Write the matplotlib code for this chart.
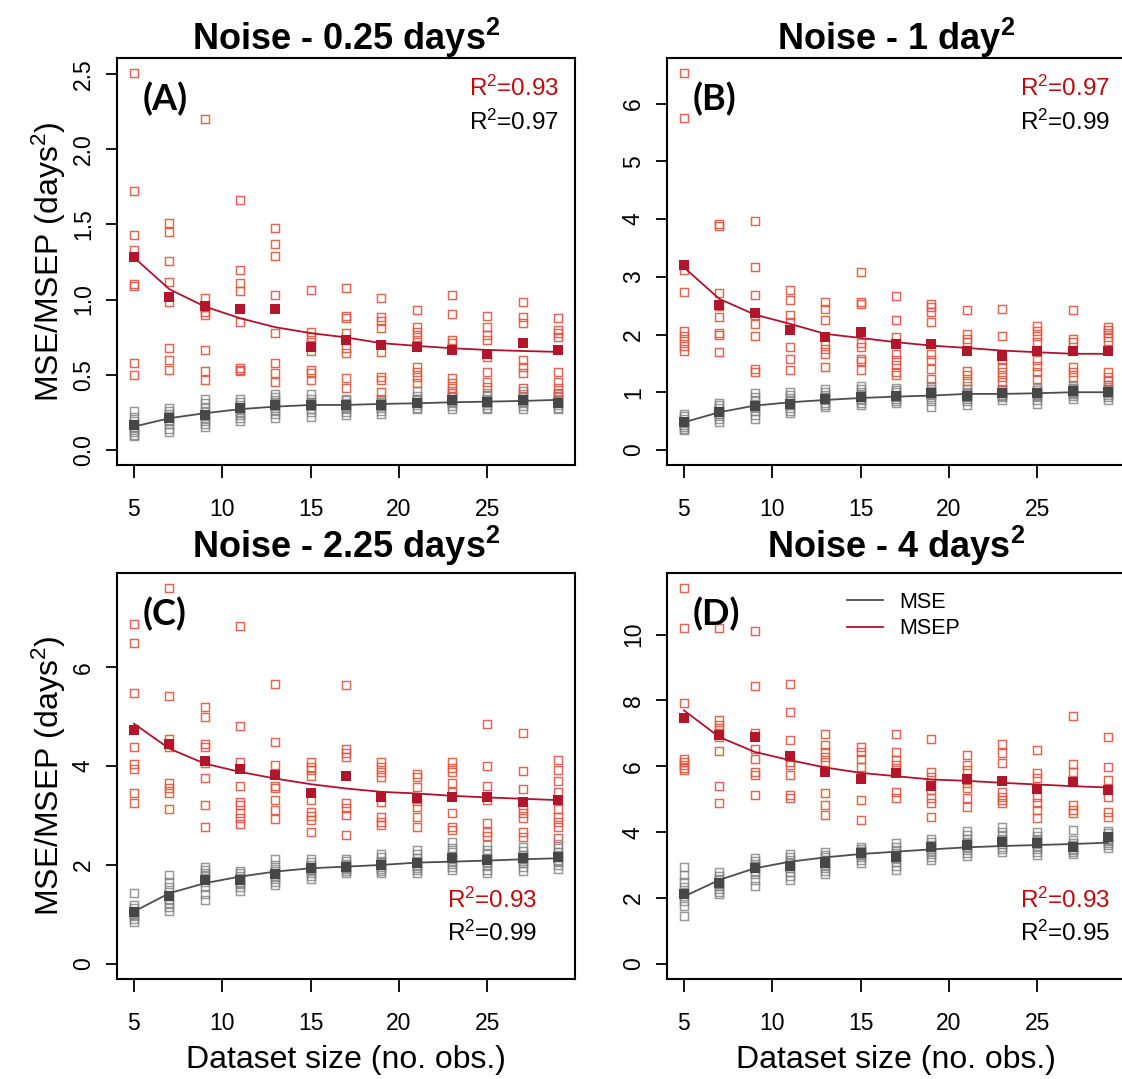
import matplotlib
matplotlib.use("Agg")
import matplotlib.pyplot as plt
from matplotlib.lines import Line2D

plt.rcParams['font.family'] = ['Liberation Sans', 'DejaVu Sans']
plt.rcParams['mathtext.fontset'] = 'custom'
plt.rcParams['mathtext.rm'] = 'Liberation Sans'
plt.rcParams['mathtext.it'] = 'Liberation Sans:italic'
plt.rcParams['mathtext.bf'] = 'Liberation Sans:bold'

# ---------------- data ----------------
sizes = [5, 7, 9, 11, 13, 15, 17, 19, 21, 23, 25, 27, 29]
xticks = [5, 10, 15, 20, 25]

titles = ["Noise - 0.25 days$^\\mathbf{2}$", "Noise - 1 day$^\\mathbf{2}$",
          "Noise - 2.25 days$^\\mathbf{2}$", "Noise - 4 days$^\\mathbf{2}$"]
tags = ["(A)", "(B)", "(C)", "(D)"]
r2_msep = ["0.93", "0.97", "0.93", "0.93"]
r2_mse = ["0.97", "0.99", "0.99", "0.95"]

A_yticks = [0.0, 0.5, 1.0, 1.5, 2.0, 2.5]
A_yticklabels = ["0.0", "0.5", "1.0", "1.5", "2.0", "2.5"]
B_yticks = [0, 1, 2, 3, 4, 5, 6]
C_yticks = [0, 2, 4, 6]
D_yticks = [0, 2, 4, 6, 8, 10]

# ---- Panel A ----
A_msep = [
    [2.506, 1.723, 1.426, 1.331, 1.102, 1.087, 0.577, 0.499],
    [1.512, 1.446, 1.258, 1.120, 0.987, 0.677, 0.599, 0.532],
    [2.202, 1.009, 0.950, 0.920, 0.898, 0.665, 0.526, 0.466],
    [1.663, 1.198, 1.113, 1.060, 0.854, 0.543, 0.530, 0.528],
    [1.473, 1.371, 1.291, 1.027, 0.776, 0.577, 0.510, 0.455],
    [1.065, 0.787, 0.754, 0.720, 0.660, 0.532, 0.510, 0.466],
    [1.076, 0.892, 0.880, 0.776, 0.677, 0.643, 0.477, 0.410],
    [1.009, 0.887, 0.860, 0.810, 0.654, 0.488, 0.466, 0.388],
    [0.931, 0.816, 0.787, 0.754, 0.720, 0.554, 0.521, 0.488, 0.443],
    [1.031, 0.905, 0.732, 0.710, 0.477, 0.443, 0.410, 0.377],
    [0.892, 0.816, 0.765, 0.732, 0.621, 0.521, 0.455, 0.421],
    [0.987, 0.887, 0.843, 0.599, 0.554, 0.510, 0.410],
    [0.876, 0.798, 0.776, 0.754, 0.521, 0.455, 0.410, 0.377],
]
A_mse = [
    [0.26, 0.22, 0.19, 0.17, 0.15, 0.13, 0.12, 0.10, 0.09],
    [0.28, 0.26, 0.24, 0.22, 0.20, 0.19, 0.17, 0.14, 0.12],
    [0.34, 0.31, 0.28, 0.25, 0.23, 0.21, 0.19, 0.17, 0.155],
    [0.34, 0.32, 0.30, 0.28, 0.27, 0.25, 0.23, 0.21, 0.19],
    [0.37, 0.35, 0.33, 0.31, 0.30, 0.28, 0.26, 0.24, 0.21],
    [0.37, 0.34, 0.32, 0.31, 0.30, 0.29, 0.27, 0.25, 0.22],
    [0.34, 0.33, 0.31, 0.30, 0.29, 0.28, 0.27, 0.25, 0.23],
    [0.34, 0.33, 0.32, 0.31, 0.30, 0.29, 0.28, 0.26, 0.24],
    [0.39, 0.36, 0.34, 0.33, 0.32, 0.31, 0.30, 0.28, 0.27],
    [0.38, 0.36, 0.35, 0.34, 0.33, 0.32, 0.31, 0.29, 0.27],
    [0.38, 0.36, 0.34, 0.33, 0.32, 0.31, 0.30, 0.28, 0.27],
    [0.39, 0.37, 0.35, 0.34, 0.33, 0.32, 0.31, 0.29, 0.27],
    [0.37, 0.35, 0.34, 0.33, 0.32, 0.31, 0.30, 0.28, 0.27],
]
A_msep_mean = [1.28, 1.016, 0.954, 0.936, 0.936, 0.687, 0.733, 0.699, 0.687, 0.665, 0.638, 0.710, 0.665]
A_msep_fit = [1.28, 1.069, 0.954, 0.876, 0.816, 0.777, 0.748, 0.710, 0.692, 0.676, 0.665, 0.658, 0.652]
A_mse_mean = [0.166, 0.211, 0.233, 0.277, 0.299, 0.299, 0.299, 0.299, 0.310, 0.333, 0.321, 0.333, 0.310]
A_mse_fit = [0.155, 0.211, 0.244, 0.271, 0.288, 0.299, 0.299, 0.306, 0.310, 0.317, 0.321, 0.326, 0.333]

# ---- Panel B ----
B_msep = [
    [6.531, 5.757, 3.121, 2.733, 2.057, 1.980, 1.895, 1.808, 1.710],
    [3.919, 3.879, 2.722, 2.500, 2.311, 2.022, 1.999, 1.692],
    [3.976, 3.166, 2.693, 2.346, 2.185, 1.982, 1.405, 1.347],
    [2.774, 2.601, 2.330, 2.214, 1.779, 1.578, 1.387],
    [2.560, 2.444, 2.254, 1.840, 1.753, 1.666, 1.433],
    [3.092, 2.560, 2.530, 1.850, 1.779, 1.578, 1.537, 1.387],
    [2.664, 2.254, 1.950, 1.666, 1.550, 1.480, 1.347, 1.290],
    [2.530, 2.473, 2.387, 2.214, 1.666, 1.550, 1.405, 1.232],
    [2.420, 2.011, 1.925, 1.867, 1.376, 1.290, 1.203],
    [2.444, 1.982, 1.550, 1.433, 1.347, 1.261, 1.174],
    [2.155, 2.069, 1.982, 1.867, 1.550, 1.463, 1.347, 1.232],
    [2.420, 1.925, 1.867, 1.433, 1.347, 1.261],
    [2.138, 2.080, 2.022, 1.953, 1.895, 1.347, 1.261, 1.203],
]
B_mse = [
    [0.62, 0.58, 0.53, 0.49, 0.46, 0.43, 0.40, 0.37, 0.34],
    [0.82, 0.77, 0.72, 0.68, 0.65, 0.62, 0.58, 0.53, 0.49],
    [0.98, 0.92, 0.86, 0.80, 0.77, 0.73, 0.68, 0.60, 0.53],
    [1.00, 0.95, 0.90, 0.85, 0.80, 0.77, 0.73, 0.68, 0.64],
    [1.05, 1.00, 0.96, 0.92, 0.89, 0.86, 0.82, 0.78, 0.75],
    [1.10, 1.05, 1.00, 0.95, 0.92, 0.89, 0.86, 0.82, 0.78],
    [1.08, 1.04, 1.00, 0.96, 0.94, 0.92, 0.89, 0.85, 0.81],
    [1.10, 1.06, 1.02, 0.99, 0.97, 0.95, 0.92, 0.85, 0.75],
    [1.10, 1.05, 1.01, 0.98, 0.95, 0.92, 0.89, 0.84, 0.78],
    [1.06, 1.03, 1.01, 0.99, 0.98, 0.96, 0.94, 0.91, 0.87],
    [1.07, 1.03, 1.00, 0.98, 0.97, 0.95, 0.92, 0.87, 0.80],
    [1.11, 1.08, 1.05, 1.03, 1.01, 0.99, 0.97, 0.93, 0.88],
    [1.13, 1.09, 1.06, 1.03, 1.00, 0.98, 0.95, 0.91, 0.87],
]
B_msep_mean = [3.208, 2.52, 2.369, 2.081, 1.953, 2.04, 1.838, 1.838, 1.722, 1.635, 1.722, 1.722, 1.722]
B_msep_fit = [3.163, 2.618, 2.346, 2.185, 2.011, 1.940, 1.867, 1.808, 1.768, 1.722, 1.693, 1.666, 1.666]
B_mse_mean = [0.479, 0.653, 0.768, 0.797, 0.884, 0.913, 0.942, 0.982, 0.942, 0.982, 0.982, 1.017, 1.0]
B_mse_fit = [0.479, 0.653, 0.768, 0.826, 0.866, 0.900, 0.924, 0.942, 0.971, 0.971, 0.982, 1.0, 1.0]

# ---- Panel C ----
C_msep = [
    [6.875, 6.484, 5.484, 4.387, 4.052, 3.950, 3.448, 3.246],
    [7.601, 5.409, 4.556, 4.387, 3.649, 3.548, 3.461, 3.131],
    [5.194, 4.992, 4.456, 4.387, 4.070, 3.770, 3.212, 2.762],
    [6.841, 4.804, 4.085, 3.595, 3.279, 3.212, 3.044, 2.944, 2.829],
    [5.665, 4.488, 4.018, 3.595, 3.548, 3.313, 3.111, 2.923],
    [4.085, 3.985, 3.918, 3.797, 3.313, 3.078, 2.990, 2.909, 2.673],
    [5.631, 4.355, 4.267, 4.186, 3.246, 3.145, 3.011, 2.607],
    [4.085, 3.985, 3.884, 3.783, 3.279, 2.977, 2.876, 2.809],
    [3.851, 3.783, 3.582, 3.300, 3.178, 2.977, 2.775],
    [4.085, 3.971, 3.884, 3.649, 3.480, 3.044, 2.775, 2.708],
    [4.845, 4.002, 3.595, 3.313, 2.842, 2.673, 2.586],
    [4.670, 3.904, 3.528, 3.145, 3.044, 2.944, 2.673, 2.573],
    [4.119, 3.918, 3.703, 3.480, 3.125, 2.963, 2.876, 2.775, 2.540],
]
C_mse = [
    [1.43, 1.20, 1.13, 1.08, 1.04, 1.00, 0.96, 0.91, 0.85],
    [1.80, 1.65, 1.55, 1.45, 1.38, 1.30, 1.22, 1.15, 1.08],
    [1.96, 1.90, 1.84, 1.78, 1.72, 1.65, 1.55, 1.42, 1.30],
    [1.88, 1.83, 1.78, 1.74, 1.70, 1.66, 1.61, 1.55, 1.48],
    [2.13, 2.00, 1.93, 1.87, 1.82, 1.77, 1.72, 1.66, 1.60],
    [2.12, 2.06, 2.01, 1.97, 1.93, 1.89, 1.84, 1.78, 1.72],
    [2.13, 2.08, 2.03, 2.00, 1.97, 1.94, 1.91, 1.87, 1.84],
    [2.23, 2.16, 2.09, 2.04, 2.00, 1.96, 1.92, 1.88, 1.84],
    [2.30, 2.22, 2.14, 2.08, 2.04, 1.99, 1.95, 1.90, 1.84],
    [2.46, 2.35, 2.26, 2.19, 2.14, 2.08, 2.02, 1.96, 1.90],
    [2.40, 2.30, 2.22, 2.15, 2.10, 2.05, 1.98, 1.90, 1.84],
    [2.37, 2.28, 2.21, 2.16, 2.13, 2.09, 2.04, 1.97, 1.88],
    [2.43, 2.34, 2.26, 2.20, 2.16, 2.11, 2.06, 2.00, 1.92],
]
C_msep_mean = [4.724, 4.456, 4.105, 3.937, 3.817, 3.46, 3.797, 3.38, 3.346, 3.38, 3.38, 3.279, 3.313]
C_msep_fit = [4.859, 4.355, 4.052, 3.884, 3.749, 3.635, 3.548, 3.480, 3.447, 3.400, 3.367, 3.340, 3.313]
C_mse_mean = [1.06, 1.377, 1.70, 1.70, 1.821, 1.935, 1.968, 2.002, 2.036, 2.137, 2.103, 2.137, 2.157]
C_mse_fit = [1.06, 1.43, 1.632, 1.767, 1.868, 1.935, 1.968, 2.002, 2.049, 2.069, 2.09, 2.117, 2.137]

# ---- Panel D ----
D_msep = [
    [11.414, 10.203, 7.920, 6.237, 6.136, 6.035, 5.950, 5.883],
    [10.203, 7.396, 7.245, 7.094, 6.900, 6.467, 5.398, 4.874],
    [10.100, 8.435, 7.013, 6.539, 6.237, 5.833, 5.732, 5.126],
    [8.486, 7.648, 6.811, 6.130, 6.054, 5.752, 5.126, 5.025],
    [6.994, 6.641, 6.439, 6.288, 6.136, 5.197, 4.823, 4.520],
    [6.590, 6.439, 6.237, 5.985, 5.680, 4.975, 4.369],
    [6.994, 6.439, 6.187, 6.035, 5.880, 5.227, 5.025],
    [6.842, 5.833, 5.682, 5.480, 5.280, 5.025, 4.874, 4.470],
    [6.338, 6.035, 5.883, 5.480, 5.328, 5.025, 4.773],
    [6.690, 6.408, 6.106, 5.227, 5.076, 4.975, 4.874],
    [6.489, 5.803, 5.651, 5.076, 4.874, 4.672, 4.419],
    [7.517, 6.086, 5.833, 4.823, 4.672, 4.571],
    [6.893, 5.985, 5.581, 5.076, 4.621, 4.470],
]
D_mse = [
    [2.93, 2.70, 2.50, 2.35, 2.20, 2.05, 1.90, 1.75, 1.45],
    [2.78, 2.68, 2.58, 2.50, 2.44, 2.36, 2.28, 2.20, 2.11],
    [3.22, 3.12, 3.04, 2.97, 2.90, 2.83, 2.74, 2.55, 2.36],
    [3.34, 3.24, 3.15, 3.06, 2.98, 2.90, 2.80, 2.68, 2.56],
    [3.40, 3.32, 3.24, 3.16, 3.08, 3.00, 2.92, 2.82, 2.72],
    [3.56, 3.50, 3.44, 3.39, 3.35, 3.30, 3.24, 3.16, 3.07],
    [3.68, 3.56, 3.45, 3.36, 3.28, 3.20, 3.10, 2.98, 2.86],
    [3.80, 3.70, 3.62, 3.55, 3.49, 3.42, 3.34, 3.25, 3.17],
    [4.05, 3.92, 3.80, 3.70, 3.62, 3.54, 3.45, 3.36, 3.27],
    [4.15, 4.02, 3.90, 3.80, 3.72, 3.64, 3.56, 3.48, 3.41],
    [4.00, 3.90, 3.80, 3.72, 3.66, 3.59, 3.50, 3.40, 3.32],
    [4.06, 3.75, 3.66, 3.60, 3.55, 3.50, 3.45, 3.40, 3.33],
    [4.05, 3.97, 3.90, 3.85, 3.80, 3.74, 3.68, 3.60, 3.52],
]
D_msep_mean = [7.466, 6.942, 6.891, 6.306, 5.833, 5.601, 5.803, 5.398, 5.601, 5.56, 5.298, 5.53, 5.278]
D_msep_fit = [7.699, 6.891, 6.439, 6.187, 5.965, 5.803, 5.702, 5.601, 5.560, 5.500, 5.449, 5.398, 5.358]
D_mse_mean = [2.128, 2.452, 2.904, 2.975, 3.076, 3.379, 3.258, 3.541, 3.611, 3.712, 3.682, 3.561, 3.843]
D_mse_fit = [2.047, 2.552, 2.904, 3.106, 3.237, 3.338, 3.409, 3.480, 3.541, 3.581, 3.611, 3.642, 3.682]

# ---------------- style ----------------
RED_OPEN = '#E0553F'
RED_FILL = '#B3152B'
RED_LINE = '#B3102C'
GRAY_OPEN = '#7F7F7F'
GRAY_FILL = '#474747'
GRAY_LINE = '#4D4D4D'
RED_TEXT = '#BE0A0A'
NARROW = ['Liberation Sans Narrow', 'Liberation Sans', 'DejaVu Sans']

W, H = 1122, 1079
fig = plt.figure(figsize=(W / 100, H / 100), dpi=100)

def fx(px):
    return px / W

def fy(px):
    return 1 - px / H

positions = [
    [fx(117), fy(465), fx(458), 407 / H],
    [fx(667), fy(465), fx(458), 407 / H],
    [fx(117), fy(979), fx(458), 406 / H],
    [fx(667), fy(979), fx(458), 406 / H],
]

panels = [
    (A_msep, A_mse, A_msep_mean, A_mse_mean, A_msep_fit, A_mse_fit, A_yticks, A_yticklabels),
    (B_msep, B_mse, B_msep_mean, B_mse_mean, B_msep_fit, B_mse_fit, B_yticks, [str(v) for v in B_yticks]),
    (C_msep, C_mse, C_msep_mean, C_mse_mean, C_msep_fit, C_mse_fit, C_yticks, [str(v) for v in C_yticks]),
    (D_msep, D_mse, D_msep_mean, D_mse_mean, D_msep_fit, D_mse_fit, D_yticks, [str(v) for v in D_yticks]),
]

title_off = [8, 8, 15, 15]
r2_pos = [(0.965, 0.926, 0.843), (0.967, 0.926, 0.843),
          (0.917, 0.195, 0.113), (0.967, 0.195, 0.113)]

for i, (msep, mse, msep_m, mse_m, msep_f, mse_f, yt, ytl) in enumerate(panels):
    ax = fig.add_axes(positions[i])
    for x, vals in zip(sizes, mse):
        ax.plot([x] * len(vals), vals, 's', ms=6.4, mfc='none', mec=GRAY_OPEN,
                mew=1.05, alpha=0.8, zorder=2)
    for x, vals in zip(sizes, msep):
        ax.plot([x] * len(vals), vals, 's', ms=6.4, mfc='none', mec=RED_OPEN,
                mew=1.05, alpha=0.9, zorder=2)
    ax.plot(sizes, mse_f, '-', color=GRAY_LINE, lw=1.3, zorder=3)
    ax.plot(sizes, msep_f, '-', color=RED_LINE, lw=1.3, zorder=3)
    ax.plot(sizes, mse_m, 's', ms=7.6, color=GRAY_FILL, mew=0, zorder=4)
    ax.plot(sizes, msep_m, 's', ms=7.6, color=RED_FILL, mew=0, zorder=4)

    ymax = max(max(v) for v in msep)
    ax.set_ylim(-0.04 * ymax, 1.04 * ymax)
    ax.set_xlim(4.04, 29.96)

    ax.set_xticks(xticks)
    ax.set_xticklabels([str(t) for t in xticks], fontsize=16.5, family=NARROW)
    ax.set_yticks(yt)
    ax.set_yticklabels(ytl, fontsize=16.5, family=NARROW, rotation=90, va='center')
    ax.tick_params(axis='x', length=9, width=1.3, pad=15)
    ax.tick_params(axis='y', length=8, width=1.3, pad=8)
    for sp in ax.spines.values():
        sp.set_linewidth(1.5)

    h = positions[i][3] * H
    ax.text(0.5, 1 + title_off[i] / h, titles[i], transform=ax.transAxes,
            ha='center', va='baseline', fontsize=26, fontweight='bold')
    ax.text(0.055, 0.9, tags[i], transform=ax.transAxes, ha='left', va='center',
            fontsize=26, fontweight='bold', family=['Lato', 'Open Sans', 'DejaVu Sans'])
    rx, ry1, ry2 = r2_pos[i]
    ax.text(rx, ry1, "R$^2$=" + r2_msep[i], transform=ax.transAxes, ha='right',
            va='center', fontsize=17.5, color=RED_TEXT)
    ax.text(rx, ry2, "R$^2$=" + r2_mse[i], transform=ax.transAxes, ha='right',
            va='center', fontsize=17.5, color='black')

    if i in (0, 2):
        ax.set_ylabel("MSE/MSEP (days$^2$)", fontsize=23)
        ax.yaxis.set_label_coords(-0.107, 0.5)
    if i in (2, 3):
        ax.set_xlabel("Dataset size (no. obs.)", fontsize=23)
        ax.xaxis.set_label_coords(0.5, -0.163)
    if i == 3:
        handles = [Line2D([], [], color=GRAY_LINE, lw=1.3),
                   Line2D([], [], color=RED_LINE, lw=1.3)]
        ax.legend(handles, ["MSE", "MSEP"], loc='upper left',
                  bbox_to_anchor=(0.375, 0.975), frameon=False, fontsize=15.5,
                  handlelength=1.65, handletextpad=0.75, labelspacing=0.25,
                  borderaxespad=0)

fig.savefig("out.png", dpi=100)
